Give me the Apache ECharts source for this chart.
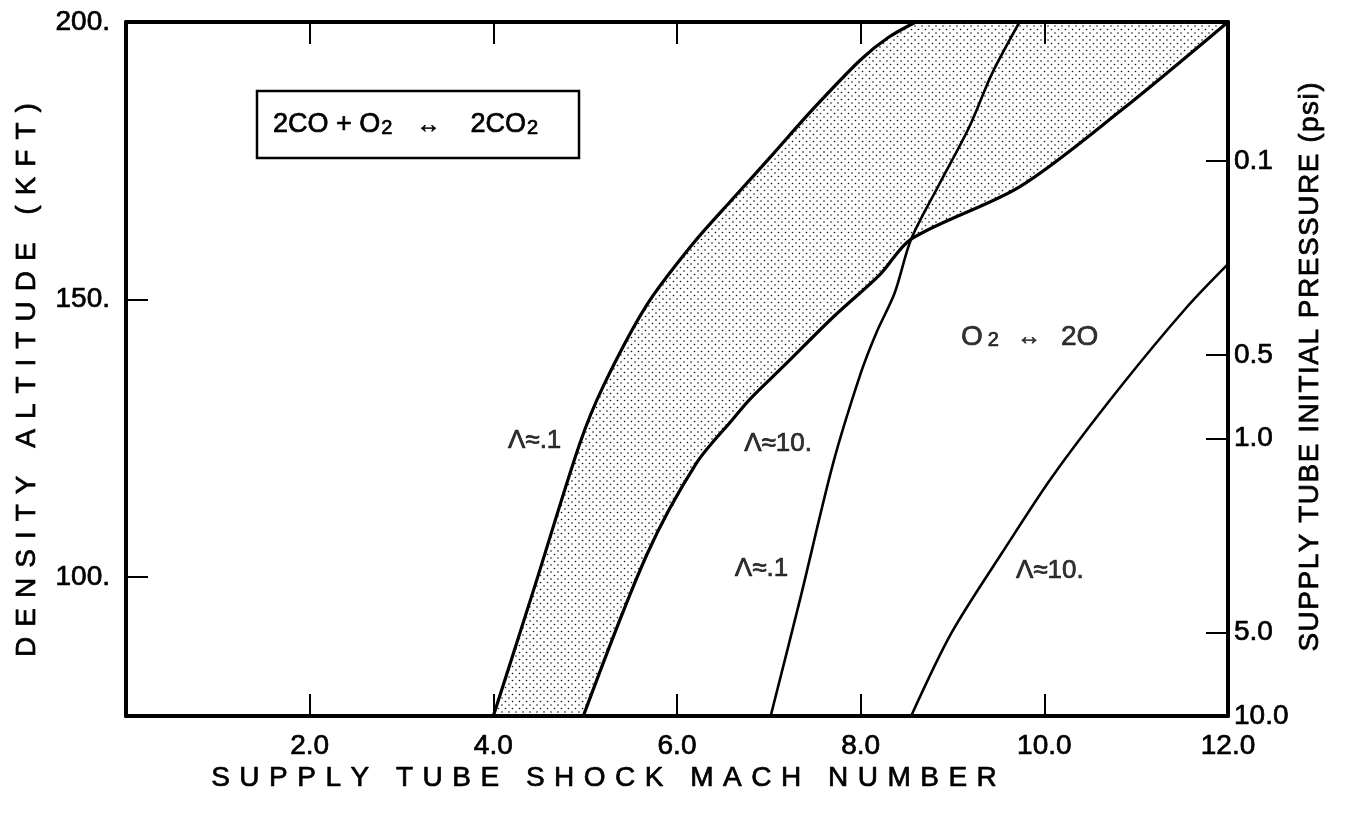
<!DOCTYPE html>
<html>
<head>
<meta charset="utf-8">
<script src="https://cdn.jsdelivr.net/npm/echarts@6/dist/echarts.min.js"></script>
<style>
  html, body { margin: 0; padding: 0; background: #fff; }
  #chart { width: 1346px; height: 825px; }
</style>
</head>
<body>
<div id="chart"></div>
<script>
// Axis ticks
const machTicks = [2, 4, 6, 8, 10, 12];
const altTicks = [100, 150, 200];
const psiTicks = [0.1, 0.5, 1, 5, 10];
const psiLabels = ['0.1', '0.5', '1.0', '5.0', '10.0'];

// Boundaries: [shock Mach number, density altitude (kft)]
const coLow = [[4.0, 75], [4.45, 98.3], [4.94, 124], [5.2, 134.5], [5.67, 149], [6.18, 160.2],
               [6.61, 168.2], [7.05, 176.3], [7.48, 184.3], [8.0, 193.2], [8.3, 197.2], [8.6, 200]];
const coHigh = [[4.98, 75], [5.67, 104], [6.21, 120.5], [6.61, 128.5], [6.79, 132], [7.16, 138],
                [7.71, 147], [8.21, 154.5], [8.55, 160.9], [9.73, 170.3], [10.83, 184], [12, 200]];
const o2Low = [[7.02, 75], [7.34, 96], [7.7, 120.5], [8.0, 136.7], [8.17, 144], [8.37, 151.2],
               [8.55, 160.9], [8.85, 170.6], [9.18, 181], [9.43, 190.7], [9.73, 200]];
const o2High = [[8.55, 75], [8.99, 90], [9.54, 104.4], [10.09, 118.2], [10.83, 134.3],
                [11.56, 148.8], [12, 156.4]];

// Curve annotations: [text, Mach, altitude]
const curveLabels = [['Λ≈.1', 4.45, 124.5], ['Λ≈10.', 7.1, 124], ['Λ≈.1', 6.92, 101.5], ['Λ≈10.', 10.06, 101.2]];

const FONT = '"Liberation Sans", Arial, Helvetica, sans-serif';
const INK = '#000';
const HEAVY = { textBorderColor: INK, textBorderWidth: 0.7 };
const HEAVY_G = { stroke: INK, lineWidth: 0.7 };

// stipple used for the CO reaction band
function dotPattern() {
  const c = document.createElement('canvas');
  c.width = 7; c.height = 7;
  const g = c.getContext('2d');
  g.fillStyle = '#111';
  g.beginPath(); g.arc(1.5, 1.5, 0.8, 0, Math.PI * 2); g.fill();
  g.beginPath(); g.arc(5, 5, 0.8, 0, Math.PI * 2); g.fill();
  return c;
}
const dots = dotPattern();

// text with extra letter spacing, built from per-glyph text elements
const measureCtx = document.createElement('canvas').getContext('2d');
function spacedText(str, size, spacing, cx, cy, rotation) {
  measureCtx.font = size + 'px ' + FONT;
  const glyphs = Array.from(str);
  const widths = glyphs.map(ch => measureCtx.measureText(ch).width);
  const total = widths.reduce((a, b) => a + b, 0) + spacing * (widths.length - 1);
  let x = -total / 2;
  const children = glyphs.map((ch, i) => {
    const el = { type: 'text', x: x, y: 0,
      style: Object.assign({ text: ch, fontSize: size, fontFamily: FONT, fill: INK,
                             align: 'left', verticalAlign: 'middle' }, HEAVY_G) };
    x += widths[i] + spacing;
    return el;
  });
  return { type: 'group', x: cx, y: cy, rotation: rotation || 0, children: children };
}

const log10 = v => Math.log(v) / Math.LN10;
const psiAxisVals = psiTicks.map(log10);

const chart = echarts.init(document.getElementById('chart'), null, { renderer: 'canvas' });

const axisLineStyle = { color: INK, width: 4 };
const tickStyle = { color: INK, width: 2 };
const labelBase = Object.assign({ color: INK, fontSize: 28, fontFamily: FONT }, HEAVY);

function curve(data, width) {
  return { type: 'line', data: data, showSymbol: false, smooth: 0.3, silent: true,
           lineStyle: { color: INK, width: width }, z: 3 };
}

const labelText = Object.assign({ color: INK, fontSize: 26, fontFamily: FONT }, HEAVY);

chart.setOption({
  animation: false,
  backgroundColor: '#fff',
  grid: { left: 126, right: 118, top: 22, bottom: 109, containLabel: false, outerBoundsMode: 'none' },
  xAxis: [
    { type: 'value', min: 0, max: 12, position: 'bottom',
      axisLine: { show: true, onZero: false, lineStyle: axisLineStyle },
      axisTick: { show: true, inside: true, length: 22, lineStyle: tickStyle, customValues: machTicks.slice(0, -1) },
      axisLabel: Object.assign({ customValues: machTicks, margin: 16, formatter: v => v.toFixed(1) }, labelBase),
      splitLine: { show: false } },
    { type: 'value', min: 0, max: 12, position: 'top',
      axisLine: { show: true, onZero: false, lineStyle: axisLineStyle },
      axisTick: { show: true, inside: true, length: 22, lineStyle: tickStyle, customValues: machTicks.slice(0, -1) },
      axisLabel: { show: false },
      splitLine: { show: false } }
  ],
  yAxis: [
    { type: 'value', min: 75, max: 200, position: 'left',
      axisLine: { show: true, onZero: false, lineStyle: axisLineStyle },
      axisTick: { show: true, inside: true, length: 22, lineStyle: tickStyle, customValues: altTicks.slice(0, -1) },
      axisLabel: Object.assign({ customValues: altTicks, margin: 16, formatter: v => v + '.' }, labelBase),
      splitLine: { show: false } },
    { type: 'value', min: -1.5, max: 1, inverse: true, position: 'right',
      axisLine: { show: true, onZero: false, lineStyle: axisLineStyle },
      axisTick: { show: true, inside: true, length: 22, lineStyle: tickStyle, customValues: psiAxisVals.slice(0, -1) },
      axisLabel: Object.assign({ customValues: psiAxisVals, margin: 6,
        formatter: v => psiLabels[psiAxisVals.findIndex(p => Math.abs(p - v) < 1e-6)] }, labelBase),
      splitLine: { show: false } }
  ],
  series: [
    { type: 'custom', coordinateSystem: 'cartesian2d', data: [[0, 75]], silent: true, z: 1,
      renderItem: function (params, api) {
        const pts = coLow.map(p => api.coord(p))
          .concat(coHigh.slice().reverse().map(p => api.coord(p)));
        return { type: 'polygon', shape: { points: pts },
                 style: { fill: { image: dots, repeat: 'repeat' }, stroke: null } };
      } },
    curve(coLow, 3.2),
    curve(coHigh, 3.2),
    curve(o2Low, 2.6),
    curve(o2High, 2.6),
    { type: 'scatter', symbolSize: 0, silent: true, z: 4,
      data: curveLabels.map(d => ({ name: d[0], value: [d[1], d[2]] })),
      label: Object.assign({ show: true, position: 'inside', formatter: p => p.name }, labelText) },
    { type: 'scatter', symbolSize: 0, silent: true, z: 4,
      data: [{ name: 'O2 ↔ 2O', value: [9.84, 143.2] }],
      label: { show: true, position: 'inside', textBorderWidth: 0,
               formatter: '{t|O}{s|2}{a|↔}{t|2O}',
               rich: {
                 t: Object.assign({ fontSize: 28, fontFamily: FONT, color: INK }, HEAVY),
                 s: Object.assign({ fontSize: 20, fontFamily: FONT, color: INK, padding: [6, 0, 0, 5] }, HEAVY),
                 a: Object.assign({ fontSize: 24, fontFamily: FONT, color: INK, padding: [0, 20, 0, 18] }, HEAVY)
               } } }
  ],
  graphic: [
    { type: 'group', x: 257, y: 91, children: [
      { type: 'rect', shape: { x: 0, y: 0, width: 322, height: 67 },
        style: { fill: '#fff', stroke: INK, lineWidth: 2.5 } },
      { type: 'text', x: 16, y: 34,
        style: { text: '{t|2CO + O}{s|2}{a|↔}{t|2CO}{s|2}', verticalAlign: 'middle', align: 'left',
          rich: {
            t: Object.assign({ fontSize: 27, fontFamily: FONT, fill: INK }, HEAVY_G),
            s: Object.assign({ fontSize: 20, fontFamily: FONT, fill: INK, padding: [6, 0, 0, 1] }, HEAVY_G),
            a: Object.assign({ fontSize: 24, fontFamily: FONT, fill: INK, padding: [0, 30, 0, 24] }, HEAVY_G)
          } } }
    ] },
    spacedText('SUPPLY TUBE SHOCK MACH NUMBER', 28, 9.5, 604, 778, 0),
    spacedText('DENSITY ALTITUDE (KFT)', 28, 10, 27, 380, Math.PI / 2),
    spacedText('SUPPLY TUBE INITIAL PRESSURE (psi)', 28, 1.5, 1310, 367, Math.PI / 2)
  ]
});
</script>
</body>
</html>
